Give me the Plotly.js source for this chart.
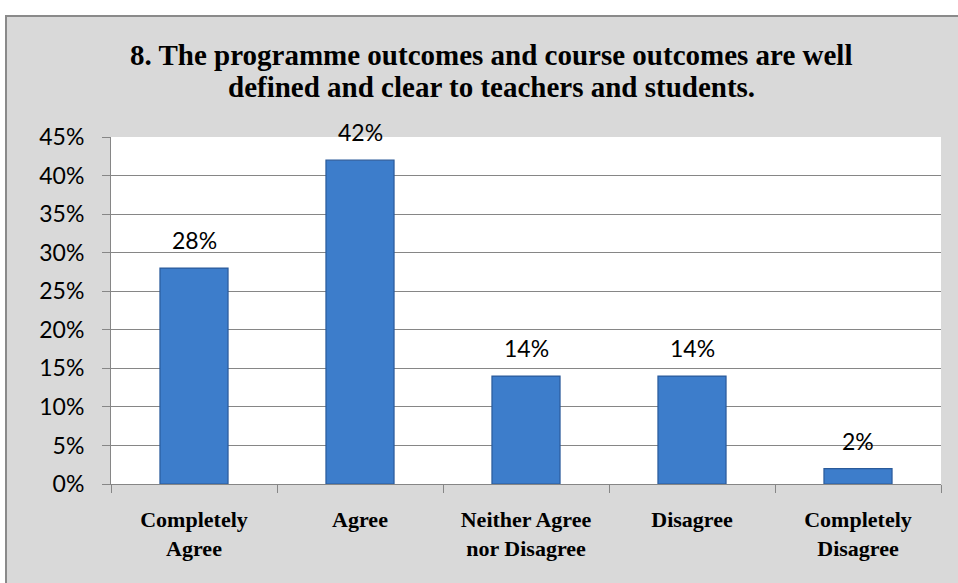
<!DOCTYPE html>
<html>
<head>
<meta charset="utf-8">
<script src="https://cdn.plot.ly/plotly-3.0.1.min.js"></script>
<style>html,body{margin:0;padding:0;background:#fff;}#chart{width:958px;height:583px;}</style>
</head>
<body>
<div id="chart"></div>
<script>
var categories = ["Completely<br>Agree", "Agree", "Neither Agree<br>nor Disagree", "Disagree", "Completely<br>Disagree"];
var values = [0.28, 0.42, 0.14, 0.14, 0.02];
var labels = ["28%", "42%", "14%", "14%", "2%"];
var yTickVals = [0, 0.05, 0.10, 0.15, 0.20, 0.25, 0.30, 0.35, 0.40, 0.45];
var yTickText = ["0%", "5%", "10%", "15%", "20%", "25%", "30%", "35%", "40%", "45%"];
var titleLines = ["8. The programme outcomes and course outcomes are well", "defined and clear to teachers and students."];

var L = 111, R = 17, T = 137, B = 99, W = 958, H = 583;
var pw = W - L - R, ph = H - T - B;
function px(x) { return (x - L) / pw; }
function py(y) { return (H - B - y) / ph; }

var sansFont = "Lato, 'Open Sans', sans-serif";
var serifFont = "'Liberation Serif', 'Times New Roman', serif";

var trace = {
  type: "bar",
  x: categories,
  y: values,
  marker: {color: "#3d7dcb", line: {color: "#2a5a9a", width: 1.2}},
  hoverinfo: "none"
};

var annotations = [];
for (var i = 0; i < categories.length; i++) {
  annotations.push({
    x: categories[i], y: values[i], xref: "x", yref: "y",
    text: labels[i], showarrow: false, yanchor: "bottom", yshift: 12,
    font: {family: sansFont, size: 23, color: "#000"}
  });
}
var titleY = [55, 87];
for (var j = 0; j < titleLines.length; j++) {
  annotations.push({
    x: px(491), y: py(titleY[j]), xref: "paper", yref: "paper",
    text: "<b>" + titleLines[j] + "</b>", showarrow: false,
    xanchor: "center", yanchor: "middle",
    font: {family: serifFont, size: 29, color: "#000"}
  });
}

var layout = {
  width: W, height: H,
  margin: {l: L, r: R, t: T, b: B, pad: 0},
  paper_bgcolor: "#d9d9d9",
  plot_bgcolor: "#ffffff",
  bargap: 0.59,
  showlegend: false,
  xaxis: {
    type: "category",
    tickson: "boundaries",
    ticks: "outside", ticklen: 8, tickcolor: "#868686", tickwidth: 1,
    showline: true, linecolor: "#868686", linewidth: 1,
    showgrid: false,
    tickvals: categories,
    ticktext: categories.map(function (c) { return "<b>" + c + "</b>"; }),
    ticklabelstandoff: 16,
    tickfont: {family: serifFont, size: 22, color: "#000"},
    automargin: false
  },
  yaxis: {
    range: [0, 0.45],
    tickvals: yTickVals, ticktext: yTickText,
    ticks: "outside", ticklen: 8, tickcolor: "#868686",
    showline: true, linecolor: "#868686", linewidth: 1,
    showgrid: true, gridcolor: "#868686", gridwidth: 1,
    zeroline: false,
    ticklabelstandoff: 13,
    tickfont: {family: sansFont, size: 23, color: "#000"},
    automargin: false
  },
  annotations: annotations,
  shapes: [
    {type: "rect", xref: "paper", yref: "paper", x0: px(-5), x1: px(965), y0: py(15), y1: py(-5), fillcolor: "#ffffff", line: {width: 0}, layer: "above"},
    {type: "rect", xref: "paper", yref: "paper", x0: px(-5), x1: px(5), y0: py(590), y1: py(-5), fillcolor: "#ffffff", line: {width: 0}, layer: "above"},
    {type: "rect", xref: "paper", yref: "paper", x0: px(6), x1: px(970), y0: py(600), y1: py(16), fillcolor: "rgba(0,0,0,0)", line: {color: "#8a8a8a", width: 2}, layer: "above"}
  ]
};

Plotly.newPlot("chart", [trace], layout, {displayModeBar: false, staticPlot: true});
</script>
</body>
</html>
